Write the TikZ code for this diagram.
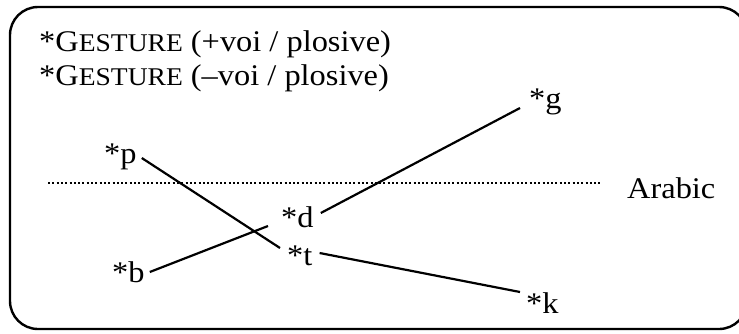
\documentclass[tikz,border=0pt]{standalone}
\usepackage{fontspec}
\setmainfont[FakeStretch=1.08]{Liberation Serif}
\begin{document}
\begin{tikzpicture}[x=1pt,y=-1pt,
  lbl/.style={anchor=base west,inner sep=0pt,font=\fontsize{30}{34}\selectfont},
  conn/.style={line width=2.2pt,line cap=butt},
  frame/.style={line width=2.4pt,rounded corners=28pt},
  dotline/.style={line width=2pt,dash pattern=on 2pt off 2.3pt}]
\useasboundingbox (0,0) rectangle (739,333);
\clip (0,0) rectangle (739,333);
\draw[frame] (10,7) rectangle (747,329);
\newcommand{\smc}[1]{{\fontsize{25.5}{34}\selectfont #1}}
\node[lbl] (h1) at (39,51) {*G\smc{ESTURE} (+voi / plosive)};
\node[lbl] (h2) at (39,85) {*G\smc{ESTURE} (–voi / plosive)};
\node[lbl] (p) at (104,163) {*p};
\node[lbl] (b) at (112,282) {*b};
\node[lbl] (d) at (281,227) {*d};
\node[lbl] (t) at (287,265) {*t};
\node[lbl] (g) at (529,108) {*g};
\node[lbl] (k) at (526,313) {*k};
\node[lbl] (ar) at (627,198) {Arabic};
\coordinate (dl1) at (48,183);
\coordinate (dl2) at (600,183);
\draw[dotline] (dl1) -- (dl2);
\draw[conn] ([shift={(5,-5)}]p.base east) -- ([shift={(-7,-17)}]t.base west);
\draw[conn] ([shift={(5,-10)}]b.base east) -- ([shift={(-13,-1)}]d.base west);
\draw[conn] ([shift={(7,-14)}]d.base east) -- ([shift={(-9,0)}]g.base west);
\draw[conn] ([shift={(7,-12)}]t.base east) -- ([shift={(-6,-21)}]k.base west);
\end{tikzpicture}
\end{document}
